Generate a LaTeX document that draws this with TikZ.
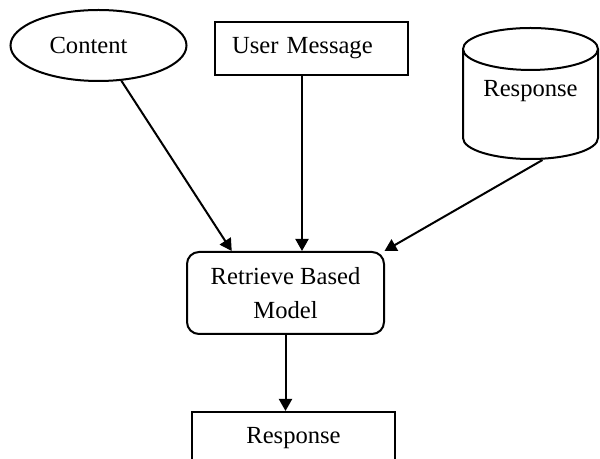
\documentclass[tikz,border=0pt]{standalone}
\usepackage{fontspec}
\setmainfont{Liberation Serif}
\usetikzlibrary{shapes.geometric,arrows.meta}

\begin{document}
\begin{tikzpicture}[x=0.5pt,y=-0.5pt,
  every node/.style={font=\fontsize{12.3}{17}\selectfont,line width=1pt},
  box/.style={draw,rectangle,minimum width=96.5pt,minimum height=26.5pt},
  link/.style={-{Triangle[length=6pt,width=6.5pt]},line width=1pt}
]
\useasboundingbox (0,0) rectangle (600,459);
% sources
\node[draw,ellipse,minimum width=88pt,minimum height=35.5pt] (content) at (98.5,45.5) {Content\hspace*{10pt}};
\node[box,text width=79.5pt,inner xsep=8.5pt,align=left] (msg) at (311.5,48.5) {User Message};
\node[draw,cylinder,shape border rotate=90,aspect=0.39,minimum width=67.5pt,minimum height=65.5pt,
  anchor=shape center] (db) at (530.5,93.5) {\raisebox{9pt}[\height][\depth]{Response}};
% model and output
\node[draw,rectangle,rounded corners=6pt,minimum width=98.5pt,minimum height=41pt,align=center] (model) at (285.5,293) {Retrieve Based\\Model};
\node[box,anchor=north,minimum width=101.5pt,inner ysep=7pt] (resp) at (293.5,411) {Response};

\coordinate (msgout) at ([xshift=-4.75pt]msg.south);
\draw[link] (content) -- (model.142);
\draw[link] (msgout) -- (msgout |- model.north);
\draw[link] ([xshift=6pt]db.south) -- (model.23);
\draw[link] (model.south) -- (model.south |- resp.north);
\end{tikzpicture}
\end{document}
